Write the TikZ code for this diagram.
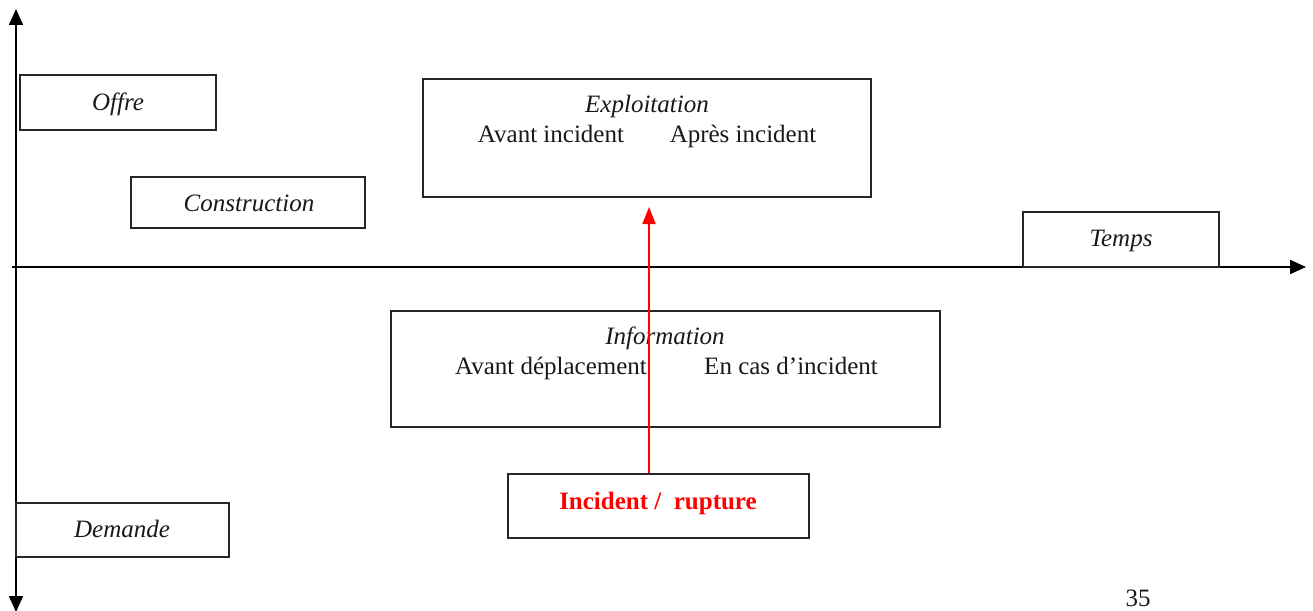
\documentclass[tikz,border=0pt]{standalone}
\usepackage{fontspec}
\setmainfont{Liberation Serif}
\usetikzlibrary{arrows.meta}
\tikzset{
  box/.style={draw=black!85, line width=1.2pt, inner sep=0pt, fill=white},
  lbl/.style={inner sep=0pt, anchor=base, text=black!90, font=\fontsize{25}{30}\selectfont},
  ilbl/.style={lbl, font=\fontsize{25}{30}\selectfont\itshape},
  axis/.style={line width=1.8pt, -{Triangle[length=16pt,width=14pt]}},
  redarrow/.style={draw=red, line width=1.8pt, -{Triangle[length=17pt,width=13pt]}},
}
\begin{document}
\begin{tikzpicture}[x=1pt,y=-1pt]
\useasboundingbox (0,0) rectangle (1313,610);

% axes
\coordinate (origin) at (16,267);
\coordinate (ytop) at (16,9);
\coordinate (ybot) at (16,612);
\coordinate (xleft) at (12,267);
\coordinate (xright) at (1306,267);
\draw[axis] (origin) -- (ytop);
\draw[axis] (origin) -- (ybot);
\draw[axis] (xleft) -- (xright);

% single-label boxes
\node[box, minimum width=196pt, minimum height=55pt] (offre) at (118,102.5) {};
\node[ilbl] (offret) at (118,110) {Offre};

\node[box, minimum width=234pt, minimum height=51pt] (constr) at (248,202.5) {};
\node[ilbl] (constrt) at (249,211) {Construction};

\node[box, minimum width=196pt, minimum height=55pt] (temps) at (1121,239.5) {};
\node[ilbl] (tempst) at (1121,246) {Temps};

\node[box, minimum width=213pt, minimum height=54pt] (demande) at (122.5,530) {};
\node[ilbl] (demandet) at (122,537) {Demande};

% exploitation
\node[box, minimum width=448pt, minimum height=118pt] (exploit) at (647,138) {};
\node[ilbl] (exploitt) at (647,112) {Exploitation};
\node[lbl] (avinc) at (551,142) {Avant incident};
\node[lbl] (apinc) at (743,142) {Après incident};

% information
\node[box, minimum width=549pt, minimum height=116pt] (info) at (665.5,369) {};
\node[ilbl] (infot) at (665,344) {Information};
\node[lbl] (avdep) at (551,374) {Avant déplacement};
\node[lbl] (encas) at (791,374) {En cas d’incident};

% incident
\node[box, minimum width=301pt, minimum height=64pt] (incident) at (658.5,506) {};
\node[lbl, text=red, font=\fontsize{25}{30}\selectfont\bfseries] (incidentt) at (658,509) {Incident /\ \ rupture};

% red arrow
\coordinate (redtip) at (649,207);
\draw[redarrow] (incident.north -| redtip) -- (redtip);

% page number
\node[lbl] (pagenum) at (1138,606) {35};
\end{tikzpicture}
\end{document}
